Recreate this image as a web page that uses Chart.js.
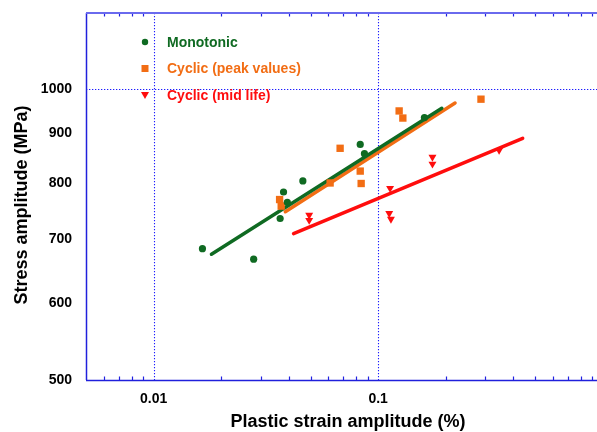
<!DOCTYPE html>
<html>
<head>
<meta charset="utf-8">
<script src="https://cdn.jsdelivr.net/npm/chart.js@4/dist/chart.umd.min.js"></script>
<style>
html,body{margin:0;padding:0;background:#fff;}
#wrap{width:597px;height:432px;position:relative;}
</style>
</head>
<body>
<div id="wrap"><canvas id="c" width="597" height="432"></canvas></div>
<script>
// ---- data ----
const seriesNames = ['Monotonic', 'Cyclic (peak values)', 'Cyclic (mid life)'];
const strainMono = [0.0165, 0.0279, 0.0366, 0.0379, 0.0394, 0.0462, 0.0832, 0.0869, 0.1607];
const stressMono = [684, 667, 735, 783, 764, 804, 877, 858, 935];
const strainPeak = [0.0364, 0.0370, 0.0611, 0.0677, 0.0832, 0.0840, 0.124, 0.1288, 0.287];
const stressPeak = [769, 757, 800, 869, 823, 799, 950, 934, 977];
const strainMid = [0.0493, 0.0493, 0.113, 0.112, 0.114, 0.1745, 0.1745, 0.3456];
const stressMid = [741, 732, 790, 744, 734, 851, 837, 865];
const fitStrainMono = [0.0181, 0.192];
const fitStressMono = [675, 956];
const fitStrainPeak = [0.0386, 0.22];
const fitStressPeak = [747, 968];
const fitStrainMid = [0.042, 0.44];
const fitStressMid = [709, 890];
const xTickValues = [0.01, 0.1];
const xTickLabels = ['0.01', '0.1'];
const xMinorTicks = [0.006,0.007,0.008,0.009,0.02,0.03,0.04,0.05,0.06,0.07,0.08,0.09,0.2,0.3,0.4,0.5,0.6,0.7,0.8,0.9];
const yTickValues = [500, 600, 700, 800, 900, 1000];
const xGridValues = [0.01, 0.1];
const yGridValues = [1000];
const xTitle = 'Plastic strain amplitude (%)';
const yTitle = 'Stress amplitude (MPa)';

const GREEN = '#0f6a22', ORANGE = '#f26d14', RED = '#ff0d0d';
const GRIDBLUE = '#1c1cff';
const FONT = '"Liberation Sans", Arial, sans-serif';

function pts(xs, ys){ return xs.map((x,i)=>({x:x, y:ys[i]})); }

function zeroPad(s){ s.paddingTop = 0; s.paddingBottom = 0; s.paddingLeft = 0; s.paddingRight = 0; }

const decor = {
  id: 'decor',
  beforeDatasetsDraw(chart){
    const ctx = chart.ctx, a = chart.chartArea, xs = chart.scales.x, ys = chart.scales.y;
    ctx.save();
    // dotted grid
    ctx.strokeStyle = GRIDBLUE; ctx.lineWidth = 1.1; ctx.setLineDash([1.3, 1.7]);
    xGridValues.forEach(v=>{
      const px = Math.round(xs.getPixelForValue(v)) + 0.5;
      ctx.beginPath(); ctx.moveTo(px, a.top); ctx.lineTo(px, a.bottom); ctx.stroke();
    });
    yGridValues.forEach(v=>{
      const py = Math.round(ys.getPixelForValue(v)) + 0.5;
      ctx.beginPath(); ctx.moveTo(a.left, py); ctx.lineTo(a.right, py); ctx.stroke();
    });
    ctx.setLineDash([]);
    // minor ticks (inward) bottom and top
    ctx.lineWidth = 1.2;
    xMinorTicks.forEach(v=>{
      const px = Math.round(xs.getPixelForValue(v)) + 0.5;
      ctx.strokeStyle = '#2020e0';
      ctx.beginPath(); ctx.moveTo(px, a.bottom); ctx.lineTo(px, a.bottom - 3.5); ctx.stroke();
      ctx.beginPath(); ctx.moveTo(px, a.top); ctx.lineTo(px, a.top + 3.5); ctx.stroke();
    });
    // axes lines
    ctx.strokeStyle = '#2020dc'; ctx.lineWidth = 1.5;
    ctx.beginPath(); ctx.moveTo(a.left + 0.5, a.top); ctx.lineTo(a.left + 0.5, a.bottom); ctx.stroke();
    ctx.beginPath(); ctx.moveTo(a.left, a.bottom + 0.5); ctx.lineTo(a.right, a.bottom + 0.5); ctx.stroke();
    ctx.strokeStyle = '#6a6aee'; ctx.lineWidth = 2;
    ctx.beginPath(); ctx.moveTo(a.left, a.top); ctx.lineTo(a.right, a.top); ctx.stroke();
    ctx.restore();
  },
  afterDraw(chart){
    const ctx = chart.ctx;
    ctx.save();
    // axis titles
    ctx.fillStyle = '#000';
    ctx.font = 'bold 18px ' + FONT;
    ctx.textAlign = 'center'; ctx.textBaseline = 'middle';
    ctx.fillText(xTitle, 348, 422);
    ctx.translate(22, 205); ctx.rotate(-Math.PI/2);
    ctx.fillText(yTitle, 0, 0);
    ctx.restore();
    // legend
    ctx.save();
    ctx.font = 'bold 14px ' + FONT;
    ctx.textAlign = 'left'; ctx.textBaseline = 'middle';
    const colors = [GREEN, ORANGE, RED];
    const rows = [43, 69.5, 96];
    const mx = 145;
    rows.forEach((y,i)=>{
      ctx.fillStyle = colors[i];
      ctx.beginPath();
      if (i === 0) { ctx.arc(mx, y - 1, 3.2, 0, Math.PI*2); }
      else if (i === 1) { ctx.rect(mx - 3.5, y - 4.5, 7, 7); }
      else { ctx.moveTo(mx - 4, y - 4); ctx.lineTo(mx + 4, y - 4); ctx.lineTo(mx, y + 3); ctx.closePath(); }
      ctx.fill();
      ctx.fillText(seriesNames[i], 167, y);
    });
    ctx.restore();
  }
};

new Chart(document.getElementById('c'), {
  type: 'scatter',
  data: {
    datasets: [
      {label: seriesNames[0], data: pts(strainMono, stressMono), pointStyle: 'circle', pointRadius: 3.6,
       backgroundColor: GREEN, borderColor: GREEN, borderWidth: 0},
      {label: seriesNames[1], data: pts(strainPeak, stressPeak), pointStyle: 'rect', pointRadius: 5.2,
       backgroundColor: ORANGE, borderColor: ORANGE, borderWidth: 0},
      {label: seriesNames[2], data: pts(strainMid, stressMid), pointStyle: 'triangle', rotation: 180, pointRadius: 4.6,
       backgroundColor: RED, borderColor: RED, borderWidth: 0},
      {type: 'line', label: 'fit mono', data: pts(fitStrainMono, fitStressMono), showLine: true, pointRadius: 0,
       borderColor: GREEN, borderWidth: 3.5, borderCapStyle: 'round', fill: false},
      {type: 'line', label: 'fit peak', data: pts(fitStrainPeak, fitStressPeak), showLine: true, pointRadius: 0,
       borderColor: ORANGE, borderWidth: 3.5, borderCapStyle: 'round', fill: false},
      {type: 'line', label: 'fit mid', data: pts(fitStrainMid, fitStressMid), showLine: true, pointRadius: 0,
       borderColor: RED, borderWidth: 3.5, borderCapStyle: 'round', fill: false}
    ]
  },
  options: {
    responsive: false,
    animation: false,
    devicePixelRatio: 1,
    layout: {autoPadding: false, padding: {top: 13, left: 0, right: 0, bottom: 0}},
    plugins: {legend: {display: false}, tooltip: {enabled: false}},
    scales: {
      x: {
        type: 'logarithmic', min: 0.005, max: 0.943,
        afterBuildTicks: s => { s.ticks = xTickValues.map(v=>({value: v})); },
        afterFit: s => { s.height = 52; zeroPad(s); },
        grid: {display: false, drawTicks: false},
        border: {display: false},
        ticks: {
          autoSkip: false, maxRotation: 0, padding: 11, color: '#000',
          font: {family: FONT, size: 14, weight: 'bold'},
          callback: (v) => { const i = xTickValues.indexOf(v); return i >= 0 ? xTickLabels[i] : ''; }
        }
      },
      y: {
        type: 'logarithmic', min: 500, max: 1200,
        afterBuildTicks: s => { s.ticks = yTickValues.map(v=>({value: v})); },
        afterFit: s => { s.width = 86; zeroPad(s); },
        grid: {display: false, drawTicks: false},
        border: {display: false},
        ticks: {
          autoSkip: false, padding: 14, color: '#000',
          font: {family: FONT, size: 14, weight: 'bold'},
          callback: (v) => String(v)
        }
      }
    }
  },
  plugins: [decor]
});
</script>
</body>
</html>
